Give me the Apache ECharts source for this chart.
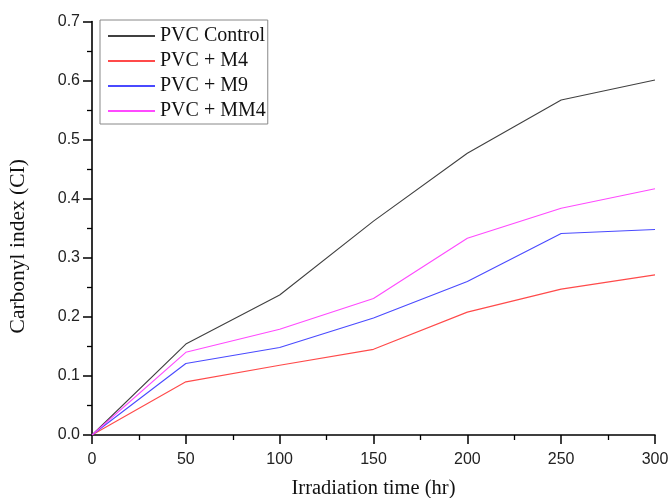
<!DOCTYPE html>
<html><head><meta charset="utf-8">
<script src="https://cdn.jsdelivr.net/npm/echarts@6/dist/echarts.min.js"></script>
<style>html,body{margin:0;padding:0;background:#fff}#c{width:671px;height:498px}</style>
</head><body><div id="c"></div>
<script>
const times = [0, 50, 100, 150, 200, 250, 300];
const pvcControl = [0, 0.154, 0.237, 0.362, 0.477, 0.567, 0.601];
const pvcM4 = [0, 0.090, 0.118, 0.145, 0.208, 0.247, 0.271];
const pvcM9 = [0, 0.121, 0.148, 0.198, 0.260, 0.341, 0.348];
const pvcMM4 = [0, 0.140, 0.179, 0.231, 0.333, 0.384, 0.417];
const seriesNames = ['PVC Control', 'PVC + M4', 'PVC + M9', 'PVC + MM4'];
const colors = ['#404040', '#ff4a4a', '#4a4aff', '#ff4aff'];
const allData = [pvcControl, pvcM4, pvcM9, pvcMM4];

const chart = echarts.init(document.getElementById('c'), null, {renderer: 'canvas'});
const axisCommon = {
  axisLine: {show: true, lineStyle: {color: '#000', width: 1.6}},
  axisTick: {show: true, inside: false, length: 9, lineStyle: {color: '#000', width: 1.5}},
  minorTick: {show: true, splitNumber: 2, length: 5, lineStyle: {color: '#000', width: 1.3}},
  splitLine: {show: false},
  axisLabel: {color: '#222', fontFamily: 'Liberation Sans', fontSize: 16}
};
chart.setOption({
  animation: false,
  backgroundColor: '#fff',
  grid: {left: 92, right: 16, top: 21.5, bottom: 63, containLabel: false, outerBoundsMode: 'none'},
  legend: {
    orient: 'vertical', left: 100, top: 20,
    data: seriesNames,
    borderColor: '#888', borderWidth: 1,
    padding: [6, 2, 3, 8],
    itemWidth: 47, itemHeight: 2, itemGap: 5,
    icon: 'rect',
    textStyle: {fontFamily: 'Liberation Serif', fontSize: 20, color: '#111', lineHeight: 20}
  },
  xAxis: Object.assign({
    type: 'value', min: 0, max: 300, interval: 50,
    name: 'Irradiation time (hr)', nameLocation: 'middle', nameGap: 43,
    nameTextStyle: {fontFamily: 'Liberation Serif', fontSize: 20.5, color: '#111'}
  }, axisCommon, {axisLabel: Object.assign({}, axisCommon.axisLabel, {margin: 17})}),
  yAxis: Object.assign({
    type: 'value', min: 0, max: 0.7, interval: 0.1,
    name: 'Carbonyl index (CI)', nameLocation: 'middle', nameGap: 63,
    nameTextStyle: {fontFamily: 'Liberation Serif', fontSize: 21.5, color: '#111', padding: [0, 36, 0, 0]}
  }, axisCommon, {axisLabel: Object.assign({}, axisCommon.axisLabel, {margin: 12, formatter: v => v.toFixed(1)})}),
  series: seriesNames.map((n, i) => ({
    name: n, type: 'line', showSymbol: false, symbol: 'none',
    data: times.map((t, j) => [t, allData[i][j]]),
    lineStyle: {color: colors[i], width: 1.1},
    itemStyle: {color: colors[i]}
  }))
});
</script></body></html>
